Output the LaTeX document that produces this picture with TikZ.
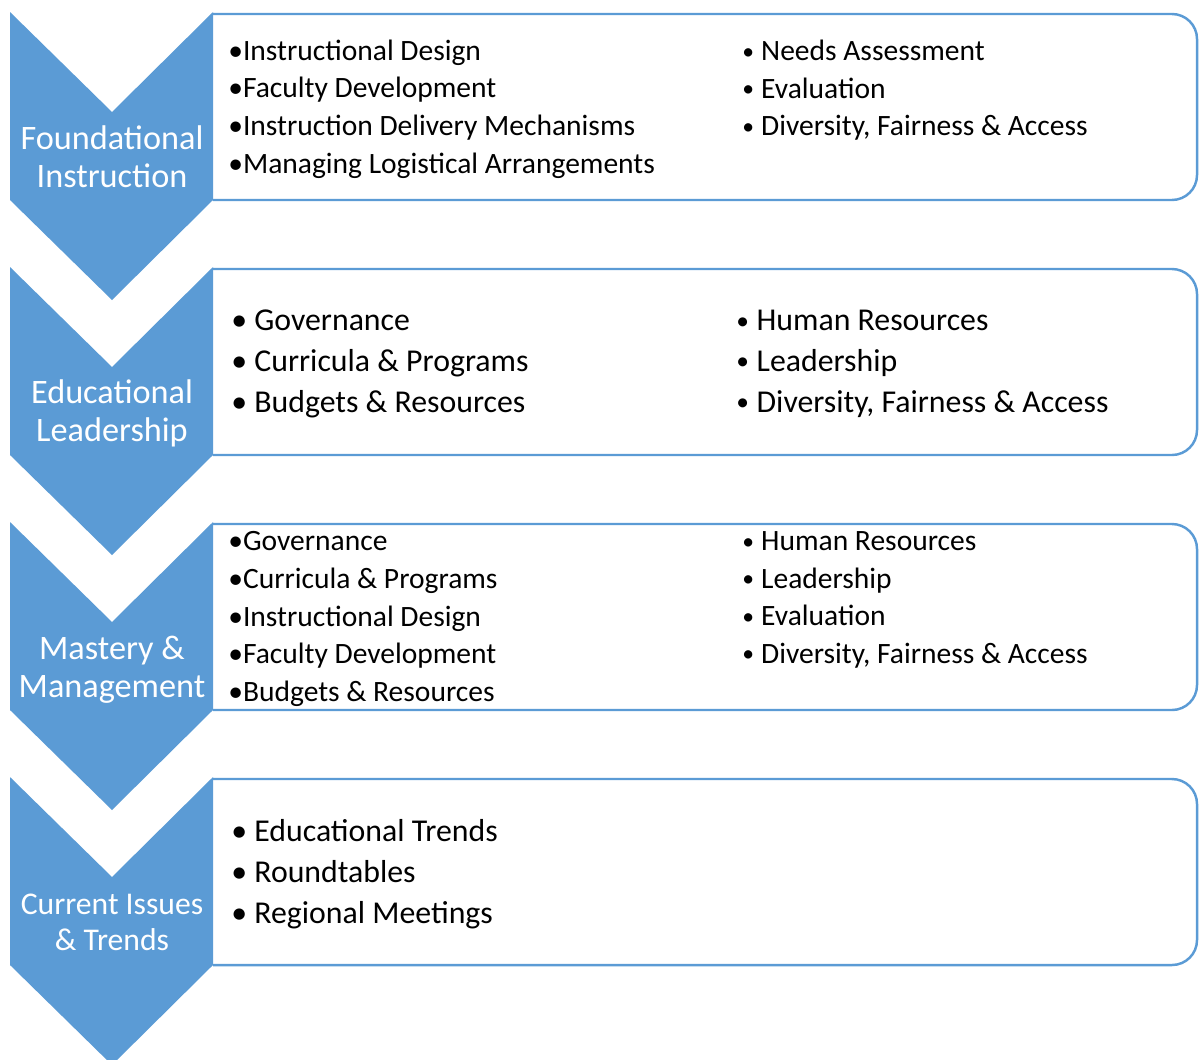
\documentclass[tikz,border=0pt]{standalone}
\usepackage{fontspec}
\setmainfont{Carlito}
\definecolor{chevblue}{HTML}{5B9BD5}
\newcommand{\sbul}{\raisebox{0.12ex}{\scalebox{0.8}{•}}\hspace{0.24em}}
\tikzset{
  chev/.style={fill=chevblue},
  panel/.style={draw=chevblue, line width=1.4pt, rounded corners=0.5cm},
  chevtext/.style={text=white, align=center, inner sep=0pt, font=\fontsize{19.5}{21.5}\selectfont},
  listsmall/.style={anchor=west, align=left, inner sep=0pt, font=\fontsize{16.8}{21.4}\selectfont},
  listbig/.style={anchor=west, align=left, inner sep=0pt, font=\fontsize{18.1}{23.2}\selectfont}
}
\begin{document}
\begin{tikzpicture}[x=0.02cm, y=-0.02cm]
    \clip (0,0) rectangle (1199,1059);
    % panels
    \draw[panel] (213,14) -- (1197,14) -- (1197,200) -- (213,200);
    \draw[panel] (213,269) -- (1197,269) -- (1197,455) -- (213,455);
    \draw[panel] (213,524) -- (1197,524) -- (1197,710) -- (213,710);
    \draw[panel] (213,779) -- (1197,779) -- (1197,965) -- (213,965);
    % chevrons
    \fill[chev] (10,12) -- (112,112) -- (213,12) -- (213,200) -- (112,300) -- (10,200) -- cycle;
    \fill[chev] (10,267) -- (112,367) -- (213,267) -- (213,455) -- (112,555) -- (10,455) -- cycle;
    \fill[chev] (10,522) -- (112,622) -- (213,522) -- (213,710) -- (112,810) -- (10,710) -- cycle;
    \fill[chev] (10,777) -- (112,877) -- (213,777) -- (213,965) -- (112,1065) -- (10,965) -- cycle;
    \node[chevtext] (found) at (112,156.5) {Foundational\\Instruction};
    \node[chevtext] (edlead) at (112,413) {Educational\\Leadership};
    \node[chevtext] (mastery) at (112,670) {Mastery \&\\Management};
    \node[chevtext, font=\fontsize{18}{20.5}\selectfont] (current) at (112,922) {Current Issues\\\& Trends};
    % lists
    \node[listsmall] (foundL) at (228,109) {•Instructional Design\\•Faculty Development\\•Instruction Delivery Mechanisms\\•Managing Logistical Arrangements};
    \node[listsmall] (foundR) at (742,90.5) {\sbul Needs Assessment\\\sbul Evaluation\\\sbul Diversity, Fairness \& Access};
    \node[listbig] (edleadL) at (231,364) {• Governance\\• Curricula \& Programs\\• Budgets \& Resources};
    \node[listbig] (edleadR) at (736,364) {\sbul Human Resources\\\sbul Leadership\\\sbul Diversity, Fairness \& Access};
    \node[listsmall] (masteryL) at (228,619) {•Governance\\•Curricula \& Programs\\•Instructional Design\\•Faculty Development\\•Budgets \& Resources};
    \node[listsmall] (masteryR) at (742,600) {\sbul Human Resources\\\sbul Leadership\\\sbul Evaluation\\\sbul Diversity, Fairness \& Access};
    \node[listbig] (currentL) at (231,874) {• Educational Trends\\• Roundtables\\• Regional Meetings};
\end{tikzpicture}
\end{document}
